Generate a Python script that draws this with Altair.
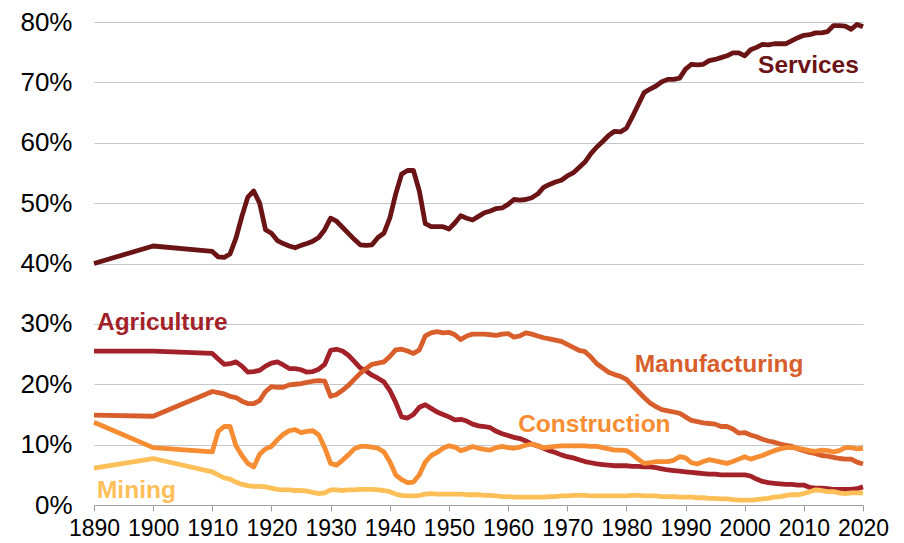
import altair as alt
import pandas as pd

years = [1890, 1900] + list(range(1910, 2021))

services = [40.0, 42.9,
    42.0, 41.1, 41.0, 41.6, 44.2, 47.8, 51.0, 52.0, 50.0, 45.6,
    45.0, 43.8, 43.3, 42.9, 42.6, 43.0, 43.3, 43.7, 44.3, 45.6,
    47.5, 47.0, 46.0, 45.0, 44.0, 43.1, 43.0, 43.1, 44.3, 45.0,
    47.5, 51.5, 54.8, 55.4, 55.4, 52.0, 46.6, 46.1, 46.1, 46.1,
    45.7, 46.7, 47.9, 47.5, 47.2, 47.8, 48.4, 48.7, 49.1, 49.2,
    49.8, 50.6, 50.5, 50.6, 50.9, 51.5, 52.6, 53.1, 53.5, 53.8,
    54.5, 55.0, 55.9, 56.8, 58.2, 59.3, 60.2, 61.2, 61.9, 61.8,
    62.4, 64.3, 66.3, 68.3, 68.9, 69.4, 70.1, 70.5, 70.5, 70.7,
    72.2, 73.0, 72.9, 73.0, 73.6, 73.8, 74.1, 74.4, 74.9, 74.9,
    74.4, 75.4, 75.8, 76.3, 76.2, 76.4, 76.4, 76.4, 76.9, 77.4,
    77.8, 77.9, 78.2, 78.2, 78.4, 79.4, 79.4, 79.3, 78.8, 79.6,
    79.2]

agriculture = [25.5, 25.5,
    25.1, 24.2, 23.3, 23.4, 23.7, 23.0, 22.0, 22.1, 22.3, 23.0,
    23.5, 23.7, 23.2, 22.6, 22.6, 22.4, 22.0, 22.1, 22.5, 23.3,
    25.6, 25.8, 25.5, 24.8, 23.8, 22.7, 22.2, 21.5, 21.0, 20.4,
    19.0, 17.0, 14.6, 14.4, 15.0, 16.2, 16.6, 16.0, 15.4, 15.0,
    14.6, 14.1, 14.2, 13.9, 13.4, 13.1, 13.0, 12.8, 12.2, 11.8,
    11.5, 11.2, 11.0, 10.6, 10.1, 9.8, 9.4, 9.0, 8.7, 8.3,
    8.0, 7.8, 7.5, 7.2, 7.0, 6.8, 6.7, 6.6, 6.5, 6.5,
    6.5, 6.4, 6.4, 6.3, 6.3, 6.2, 6.0, 5.8, 5.7, 5.6,
    5.5, 5.4, 5.3, 5.2, 5.1, 5.1, 5.0, 5.0, 5.0, 5.0,
    5.0, 4.8, 4.3, 3.9, 3.7, 3.6, 3.5, 3.4, 3.4, 3.3,
    3.3, 2.9, 2.8, 2.8, 2.7, 2.6, 2.6, 2.6, 2.6, 2.7,
    3.0]

manufacturing = [14.9, 14.7,
    18.8, 18.6, 18.4, 18.0, 17.8, 17.2, 16.8, 16.8, 17.3, 18.8,
    19.6, 19.5, 19.5, 19.9, 20.0, 20.1, 20.3, 20.5, 20.6, 20.5,
    18.0, 18.3, 19.0, 19.8, 20.8, 21.8, 22.6, 23.3, 23.5, 23.7,
    24.6, 25.7, 25.8, 25.5, 25.1, 25.7, 28.0, 28.5, 28.7, 28.5,
    28.6, 28.2, 27.4, 28.0, 28.3, 28.3, 28.3, 28.2, 28.1, 28.3,
    28.4, 27.8, 28.0, 28.5, 28.3, 28.0, 27.7, 27.5, 27.3, 27.1,
    26.6, 26.1, 25.6, 25.4, 24.5, 23.4, 22.7, 22.0, 21.6, 21.3,
    20.8, 19.8, 18.8, 17.8, 16.9, 16.3, 15.8, 15.6, 15.4, 15.2,
    14.6, 14.0, 13.8, 13.6, 13.5, 13.4, 13.0, 13.0, 12.6, 11.9,
    12.0, 11.6, 11.3, 10.9, 10.6, 10.4, 10.1, 9.9, 9.7, 9.3,
    9.0, 8.7, 8.5, 8.2, 8.1, 7.9, 7.7, 7.6, 7.6, 7.1,
    6.8]

construction = [13.7, 9.5,
    8.8, 12.2, 13.0, 13.0, 9.8, 8.2, 6.9, 6.3, 8.4, 9.3,
    9.7, 10.8, 11.7, 12.3, 12.5, 12.0, 12.2, 12.3, 11.6, 9.5,
    6.9, 6.6, 7.4, 8.3, 9.3, 9.7, 9.7, 9.6, 9.4, 8.8,
    7.2, 5.0, 4.2, 3.7, 3.8, 5.0, 7.1, 8.2, 8.7, 9.4,
    9.8, 9.6, 9.0, 9.3, 9.7, 9.4, 9.2, 9.1, 9.5, 9.7,
    9.5, 9.4, 9.6, 9.9, 10.1, 9.8, 9.5, 9.6, 9.7, 9.8,
    9.8, 9.8, 9.8, 9.8, 9.7, 9.7, 9.5, 9.3, 9.1, 9.1,
    9.0, 8.4, 7.6, 6.9, 7.0, 7.2, 7.2, 7.2, 7.4, 8.0,
    7.8, 7.0, 6.8, 7.2, 7.5, 7.3, 7.1, 6.9, 7.2, 7.6,
    8.0, 7.6, 7.9, 8.2, 8.6, 9.0, 9.3, 9.5, 9.5, 9.4,
    9.2, 9.0, 8.9, 9.1, 9.0, 8.8, 9.0, 9.5, 9.5, 9.3,
    9.4]

mining = [6.1, 7.7,
    5.5, 5.0, 4.5, 4.3, 3.8, 3.4, 3.2, 3.1, 3.1, 3.0,
    2.8, 2.6, 2.5, 2.5, 2.4, 2.4, 2.3, 2.1, 1.9, 2.0,
    2.5, 2.5, 2.4, 2.5, 2.5, 2.6, 2.6, 2.6, 2.5, 2.4,
    2.2, 1.8, 1.6, 1.5, 1.5, 1.6, 1.8, 1.9, 1.8, 1.8,
    1.8, 1.8, 1.8, 1.7, 1.7, 1.7, 1.6, 1.6, 1.5, 1.4,
    1.4, 1.3, 1.3, 1.3, 1.3, 1.3, 1.3, 1.4, 1.4, 1.5,
    1.5, 1.6, 1.6, 1.6, 1.5, 1.5, 1.5, 1.5, 1.5, 1.5,
    1.5, 1.6, 1.6, 1.5, 1.5, 1.5, 1.4, 1.4, 1.4, 1.3,
    1.3, 1.3, 1.2, 1.2, 1.1, 1.1, 1.0, 1.0, 0.9, 0.8,
    0.8, 0.8, 0.9, 1.0, 1.1, 1.3, 1.4, 1.6, 1.7, 1.7,
    1.9, 2.2, 2.5, 2.4, 2.2, 2.2, 2.0, 1.9, 2.0, 2.0,
    2.0]

sectors = ["Services", "Agriculture", "Manufacturing", "Construction", "Mining"]
colors = ["#6b1416", "#a3222a", "#d85f2b", "#f68d33", "#fdc058"]

label_x = [2019.3, 1890.5, 1981.4, 1961.7, 1890.5]
label_y = [72.7, 30.1, 23.2, 13.2, 2.3]
label_align = ["right", "left", "left", "left", "left"]

series = [services, agriculture, manufacturing, construction, mining]
rows = []
for name, vals in zip(sectors, series):
    for yr, v in zip(years, vals):
        rows.append({"year": yr, "share": v, "sector": name})
df = pd.DataFrame(rows)

labels = pd.DataFrame({"sector": sectors, "x": label_x, "y": label_y, "align": label_align})

color_scale = alt.Scale(domain=sectors, range=colors)
x_scale = alt.Scale(domain=[1890, 2020], nice=False, zero=False)
y_scale = alt.Scale(domain=[0, 80], nice=False)

x_axis = alt.Axis(values=list(range(1890, 2030, 10)), format="d", title=None,
                  grid=False, domainColor="#a0a0a0", tickColor="#a0a0a0",
                  tickSize=6, labelFontSize=23, labelColor="#000000",
                  labelPadding=6, labelOverlap=False, labelFlush=False,
                  labelFont="Liberation Sans")
y_axis = alt.Axis(values=list(range(0, 90, 10)), labelExpr="datum.value + '%'",
                  title=None, domain=False, ticks=False, gridColor="#c4c8cc",
                  gridWidth=1.2, labelFontSize=26, labelColor="#000000",
                  labelPadding=22, labelFont="Liberation Sans")

lines = alt.Chart(df).mark_line(strokeWidth=4.8, strokeJoin="round", strokeCap="butt").encode(
    x=alt.X("year:Q", scale=x_scale, axis=x_axis),
    y=alt.Y("share:Q", scale=y_scale, axis=y_axis),
    color=alt.Color("sector:N", scale=color_scale, legend=None),
    detail="sector:N",
)

def text_layer(align):
    return alt.Chart(labels[labels["align"] == align]).mark_text(
        align=align, baseline="middle", fontSize=24.5, fontWeight="bold", font="Liberation Sans"
    ).encode(
        x=alt.X("x:Q", scale=x_scale, axis=x_axis),
        y=alt.Y("y:Q", scale=y_scale, axis=y_axis),
        text="sector:N",
        color=alt.Color("sector:N", scale=color_scale, legend=None),
    )

chart = alt.layer(lines, text_layer("left"), text_layer("right")).properties(
    width=769, height=483,
    autosize=alt.AutoSizeParams(type="none"),
    padding={"left": 86, "top": 14, "right": 30, "bottom": 38},
    background="#ffffff",
).configure_view(stroke=None)

chart.save("out.html", embed_options={"renderer": "svg", "actions": False})
